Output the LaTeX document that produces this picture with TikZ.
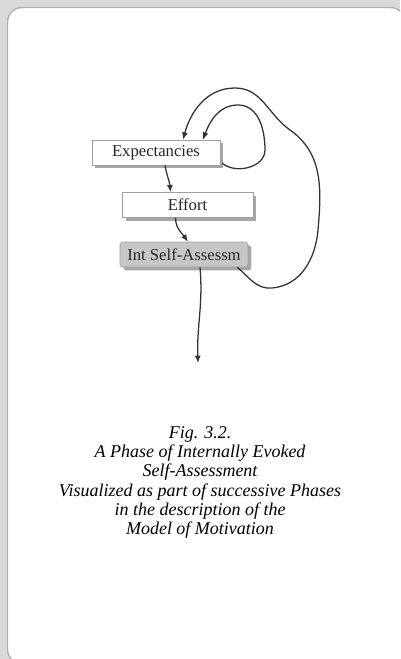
\documentclass[tikz,border=0pt]{standalone}
\usepackage{fontspec}
\setmainfont{Liberation Serif}
\usetikzlibrary{arrows.meta,shadows,calc}
\tikzset{
  stepbox/.style={draw=gray!75, fill=white, minimum height=18.75pt, inner sep=1pt,
    font=\fontsize{12.5}{14}\selectfont, text=black!85,
    drop shadow={shadow xshift=2.5pt, shadow yshift=-2.5pt, fill=gray!70, opacity=1}},
  flow/.style={draw=black!80, line width=0.95pt, -{Latex[length=5.5pt,width=4.5pt]}}
}
\begin{document}
\begin{tikzpicture}[x=0.75pt,y=0.75pt]
\clip (0,0) rectangle (400,-659);
\fill[gray!30] (0,0) rectangle (400,-659);
\draw[gray!60, line width=1.1pt, fill=white, rounded corners=11pt] (7.5,-7.5) rectangle (405,-664);

\node[stepbox, minimum width=96pt] (expect) at (156,-152.5) {Expectancies};
\node[stepbox, minimum width=98pt] (effort) at (187.5,-205) {Effort};
\node[stepbox, fill=gray!45, rounded corners=2pt, minimum width=96pt] (assess) at (184,-254.5) {Int Self-Assessm};
\coordinate (exit) at (198,-363);

\draw[flow] ($(expect.south)+(9,0)$) to[out=-80,in=95] ($(effort.north)+(-17,0)$);
\draw[flow] ($(effort.south)+(-12,0)$) to[out=-90,in=125] ($(assess.north)+(4,0)$);
% inner loop
\draw[flow] ($(expect.south east)+(2,2)$) to[out=-40,in=-90] (265,-150)
  to[out=90,in=0] (238,-105) to[out=180,in=70] ($(expect.north)+(47,0)$);
% outer loop
\draw[flow] ($(assess.south east)+(-11,0)$) to[out=-40,in=185] (272,-288)
  to[out=5,in=-95] (318,-230) to[out=85,in=-35] (290,-130)
  to[out=145,in=0] (235,-88) to[out=180,in=75] ($(expect.north)+(27,0)$);
\draw[flow] ($(assess.south)+(16,0)$) to[out=-85,in=92] (exit);

\node[align=center, inner sep=0pt, anchor=north, font=\itshape\fontsize{13.5}{14.5}\selectfont] (caption) at (200,-426)
  {Fig. 3.2.\\A Phase of Internally Evoked\\Self-Assessment\\Visualized as part of successive Phases\\in the description of the\\Model of Motivation};
\end{tikzpicture}
\end{document}
